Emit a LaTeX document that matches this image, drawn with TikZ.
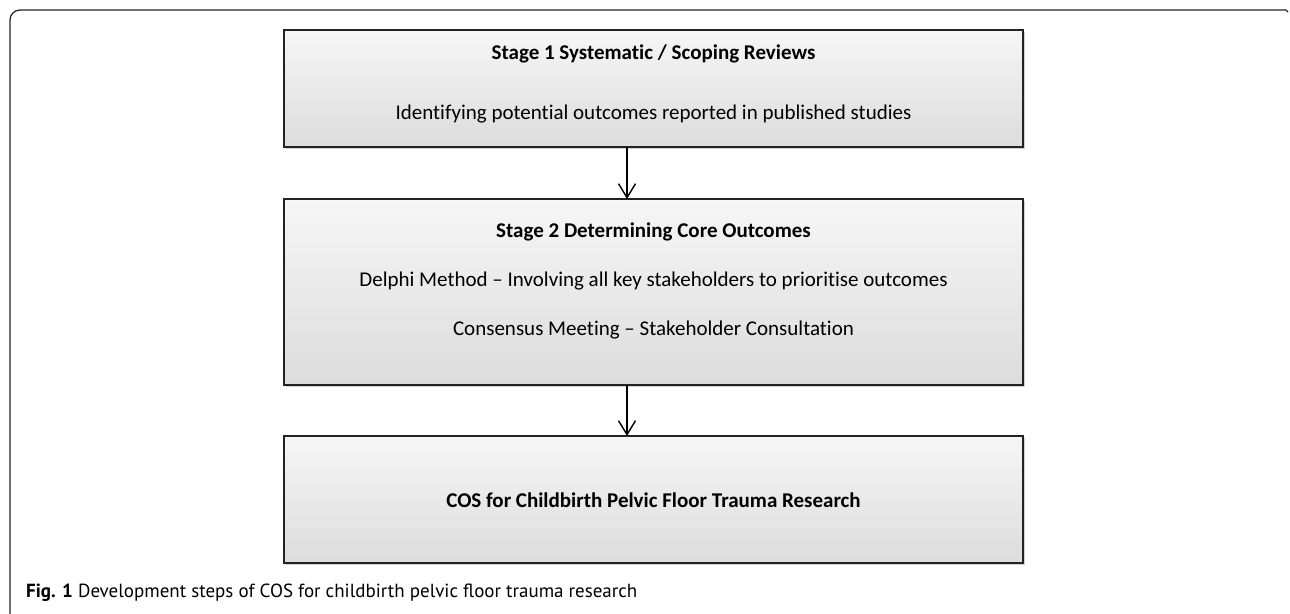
\documentclass[tikz,border=0pt]{standalone}
\usepackage{fontspec}
\setmainfont{Carlito}[Ligatures=NoCommon]
\newfontfamily\capfont{PT Sans}
\usetikzlibrary{arrows.meta,shadows}
\definecolor{boxtop}{HTML}{F6F6F6}
\definecolor{boxbot}{HTML}{DCDCDC}
\definecolor{edge}{HTML}{222222}
\tikzset{
  stagebox/.style={draw=edge, line width=1.4pt, top color=boxtop, bottom color=boxbot,
    drop shadow={shadow xshift=2pt, shadow yshift=-2pt, opacity=0.18, fill=black},
    inner sep=0pt, minimum width=739pt},
  lbl/.style={font=\fontsize{21}{25}\selectfont, text=black, inner sep=0pt, anchor=base},
  head/.style={lbl, font=\fontsize{21}{25}\selectfont\bfseries},
  flow/.style={draw=black, line width=1.4pt, -{Straight Barb[length=14pt,width=17pt,line width=1.4pt]}},
  frame/.style={draw=black!85, line width=1.3pt, rounded corners=10pt},
}
\begin{document}
\begin{tikzpicture}[x=1pt,y=-1pt]
\useasboundingbox (0,0) rectangle (1290,613);
\draw[frame] (10,614) -- (10,10) -- (1286,10);
\draw[draw=black!85, line width=1.3pt] (1286,10) -- (1288,12);
\node[stagebox, minimum height=117pt] (s1) at (653.5,88.5) {};
\node[stagebox, minimum height=186pt] (s2) at (653.5,292) {};
\node[stagebox, minimum height=127pt] (s3) at (653.5,499.5) {};
\node[head] (t1) at (653.5,59) {Stage 1 Systematic / Scoping Reviews};
\node[lbl] (d1) at (653.5,119) {Identifying potential outcomes reported in published studies};
\node[head] (t2) at (653.5,237) {Stage 2 Determining Core Outcomes};
\node[lbl] (d2) at (653.5,286) {Delphi Method – Involving all key stakeholders to prioritise outcomes};
\node[lbl] (d3) at (653.5,335) {Consensus Meeting – Stakeholder Consultation};
\node[head] (t3) at (653.5,507) {COS for Childbirth Pelvic Floor Trauma Research};
\draw[flow] (627,147) -- (627,199);
\draw[flow] (627,385) -- (627,436);
\node[anchor=base west, inner sep=0pt, font=\capfont\fontsize{19}{23}\selectfont] (cap) at (26,597) {\textbf{Fig. 1} Development steps of COS for childbirth pelvic floor trauma research};
\end{tikzpicture}
\end{document}
